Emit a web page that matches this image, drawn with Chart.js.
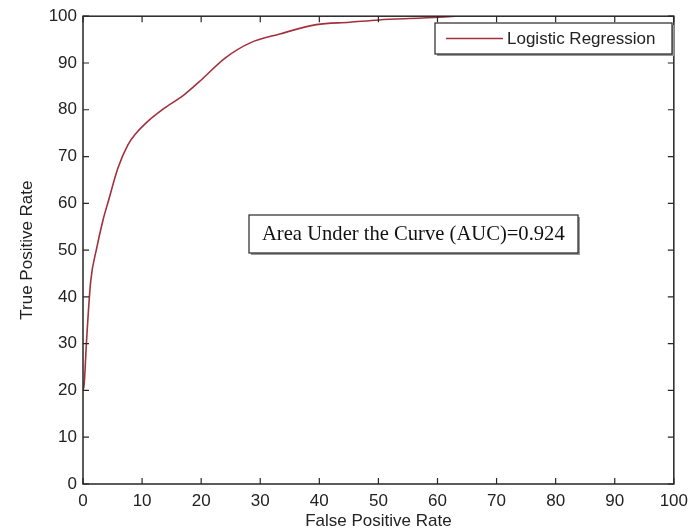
<!DOCTYPE html>
<html>
<head>
<meta charset="utf-8">
<script src="https://cdn.jsdelivr.net/npm/chart.js@4"></script>
<style>
	html, body { margin: 0; padding: 0; background: #fff; }
	#wrap { width: 695px; height: 532px; }
</style>
</head>
<body>
<div id="wrap"><canvas id="rocChart"></canvas></div>
<script>
const fpr = [0, 0.2, 0.6, 1.3, 2.3, 3.4, 4.3, 5.9, 7.6, 9, 11.2, 13.4, 17.1, 19.6, 24.1, 28.3, 33.3, 39.5, 45.1, 50.1, 57.4, 63];
const tpr = [20, 21.4, 30.6, 43.3, 50.3, 56.5, 60.5, 67.5, 72.5, 75, 77.8, 80, 83.2, 85.9, 91.1, 94.3, 96.2, 98.2, 98.7, 99.2, 99.6, 100];
const ticks = [0, 10, 20, 30, 40, 50, 60, 70, 80, 90, 100];
const seriesLabel = 'Logistic Regression';
const aucText = 'Area Under the Curve (AUC)=0.924';

const lineColor = '#a3313d';
const axisColor = '#262626';
const sansFont = '"Liberation Sans", Arial, sans-serif';
const serifFont = '"Liberation Serif", "Times New Roman", serif';

// box round the plot, inward ticks on all four sides, legend and AUC note
const framePlugin = {
	id: 'frame',
	afterDatasetsDraw: chart => {
		const { ctx, chartArea: a, scales } = chart;
		ctx.save();
		ctx.strokeStyle = axisColor;
		ctx.lineWidth = 1.5;
		ctx.strokeRect(a.left, a.top, a.right - a.left, a.bottom - a.top);

		ctx.lineWidth = 1.2;
		ctx.beginPath();
		ticks.forEach(t => {
			const x = scales.x.getPixelForValue(t);
			const y = scales.y.getPixelForValue(t);
			ctx.moveTo(x, a.bottom); ctx.lineTo(x, a.bottom - 6);
			ctx.moveTo(x, a.top); ctx.lineTo(x, a.top + 6);
			ctx.moveTo(a.left, y); ctx.lineTo(a.left + 6, y);
			ctx.moveTo(a.right, y); ctx.lineTo(a.right - 6, y);
		});
		ctx.stroke();

		const drawBox = (x, y, w, h) => {
			ctx.fillStyle = '#9a9a9a';
			ctx.fillRect(x + 2, y + 2, w, h);
			ctx.fillStyle = '#fff';
			ctx.fillRect(x, y, w, h);
			ctx.strokeStyle = axisColor;
			ctx.lineWidth = 1.2;
			ctx.strokeRect(x, y, w, h);
		};

		// legend
		const ds = chart.data.datasets[0];
		drawBox(435, 23, 237, 31);
		ctx.strokeStyle = ds.borderColor;
		ctx.lineWidth = 1.5;
		ctx.beginPath();
		ctx.moveTo(446, 38.5);
		ctx.lineTo(503, 38.5);
		ctx.stroke();
		ctx.fillStyle = '#222';
		ctx.font = `17px ${sansFont}`;
		ctx.textBaseline = 'middle';
		ctx.fillText(ds.label, 507, 39);

		// AUC note
		drawBox(249, 215, 329, 38);
		ctx.fillStyle = '#111';
		ctx.font = `20.6px ${serifFont}`;
		ctx.fillText(aucText, 262, 235);
		ctx.restore();
	},
};

const ctx = document.querySelector('#rocChart');

new Chart(ctx, {
	type: 'line',
	data: {
		datasets: [
			{
				label: seriesLabel,
				data: fpr.map((x, i) => ({ x, y: tpr[i] })),
				borderColor: lineColor,
				borderWidth: 1.6,
				pointRadius: 0,
				cubicInterpolationMode: 'monotone',
				fill: false,
			},
		],
	},
	options: {
		responsive: true,
		maintainAspectRatio: false,
		animation: false,
		layout: { padding: { left: 0, right: 16, top: 13, bottom: 0 } },
		plugins: {
			legend: { display: false },
			tooltip: { enabled: false },
		},
		scales: {
			x: {
				type: 'linear',
				min: 0,
				max: 100,
				afterFit: s => { s.height = 48; },
				afterBuildTicks: s => { s.ticks = ticks.map(v => ({ value: v })); },
				grid: { display: false, drawTicks: false },
				border: { display: false },
				ticks: { color: '#222', padding: 7, maxRotation: 0, font: { family: sansFont, size: 17 } },
				title: {
					display: true,
					text: 'False Positive Rate',
					color: '#222',
					padding: { top: 2, bottom: 0 },
					font: { family: sansFont, size: 17 },
				},
			},
			y: {
				type: 'linear',
				min: 0,
				max: 100,
				afterFit: s => { s.width = 83; },
				afterBuildTicks: s => { s.ticks = ticks.map(v => ({ value: v })); },
				grid: { display: false, drawTicks: false },
				border: { display: false },
				ticks: { color: '#222', padding: 6, font: { family: sansFont, size: 17 } },
				title: {
					display: true,
					text: 'True Positive Rate',
					color: '#222',
					padding: { top: 17, bottom: 0 },
					font: { family: sansFont, size: 17 },
				},
			},
		},
	},
	plugins: [framePlugin],
});
</script>
</body>
</html>
